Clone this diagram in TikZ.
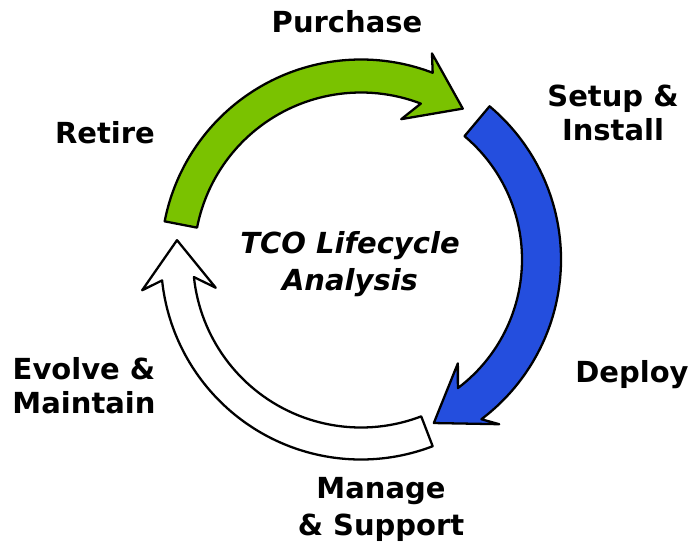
\documentclass[tikz,border=0pt]{standalone}
\usepackage{fontspec}
\setmainfont{DejaVu Sans}
\definecolor{leaf}{RGB}{122,194,0}
\definecolor{royal}{RGB}{36,78,222}
\begin{document}
\begin{tikzpicture}[line join=round,
    lab/.style = {font=\bfseries\fontsize{16.5}{18.8}\selectfont, align=center, anchor=base},
    band/.style = {draw=black, line width=1.3pt, shift={(7.22,5.65)}}]

		\useasboundingbox (0,0) rectangle (13.86,10.84);

		\draw[band, fill=leaf] (169:4) arc[start angle=169, end angle=69, radius=4] -- (71:4.36) -- (56:3.64) -- (74:2.92) -- (69:3.34) arc[start angle=69, end angle=169, radius=3.34] -- cycle;
		\draw[band, fill=royal] (50:4) arc[start angle=50, end angle=-53, radius=4] -- (-50:4.3) -- (-66:3.58) -- (-47:2.84) -- (-53:3.22) arc[start angle=-53, end angle=50, radius=3.22] -- cycle;
		\draw[band, fill=white] (-69:4) arc[start angle=-69, end angle=-174, radius=4] -- (-172:4.42) -- (-186:3.7) -- (-169:2.96) -- (-174:3.36) arc[start angle=-174, end angle=-69, radius=3.36] -- cycle;

		\node[lab] (buy) at (6.94,10.2) {Purchase};
		\node[lab] (setup) at (12.26,8.04) {Setup \&\\Install};
		\node[lab] (deploy) at (12.64,3.2) {Deploy};
		\node[lab] (manage) at (7.62,0.14) {Manage\\[2pt]\& Support};
		\node[lab] (evolve) at (1.68,2.58) {Evolve \&\\Maintain};
		\node[lab] (retire) at (2.1,7.98) {Retire};
		\node[lab, font=\bfseries\itshape\fontsize{16.5}{18.8}\selectfont] (tco) at (7.0,5.04) {TCO Lifecycle\\[2pt]Analysis};
	\end{tikzpicture}
\end{document}
